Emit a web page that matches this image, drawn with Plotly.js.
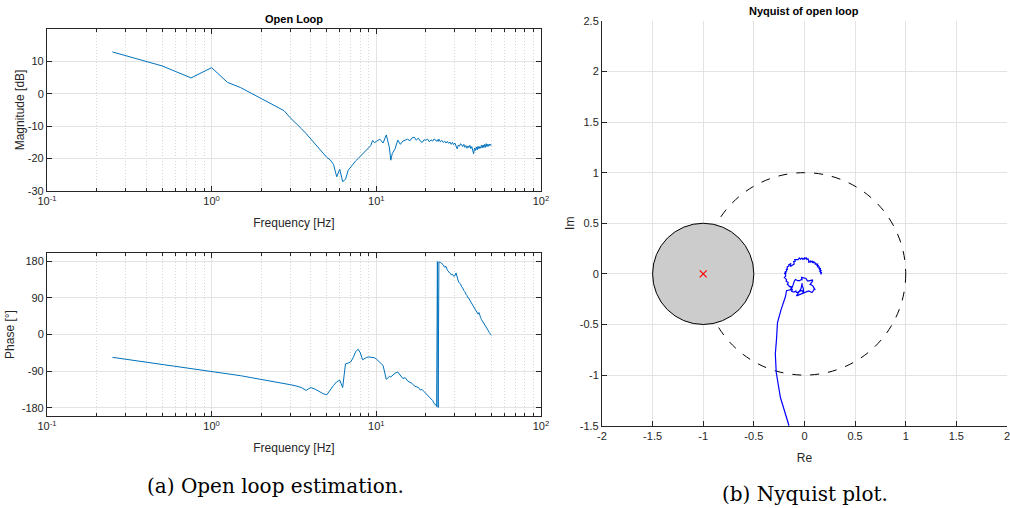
<!DOCTYPE html>
<html>
<head>
<meta charset="utf-8">
<script src="https://cdn.plot.ly/plotly-3.0.1.min.js"></script>
<style>html,body{margin:0;padding:0;background:#fff;} #chart{width:1010px;height:508px;}</style>
</head>
<body>
<div id="chart"></div>
<script>
// ---- Data ----
const freqHz = [0.25,0.5,0.75,1,1.25,1.5,1.75,2,2.25,2.5,2.75,3,3.25,3.5,3.75,4,4.25,4.5,4.75,5,
  5.25,5.5,5.75,6,6.25,6.5,6.75,7,7.25,7.5,7.75,8,8.25,8.5,8.75,9,9.25,9.5,9.75,10,
  10.5,11,11.5,12,12.25,12.5,13,13.5,14,14.5,15,15.5,16,16.5,17,17.5,18,18.5,19,19.5,
  20,20.5,21,21.5,22,22.5,23,23.25,23.5,23.75,24,
  24.5,25,25.5,26,26.5,27,27.5,28,28.5,29,29.5,30,30.5,31,31.5,32,32.5,33,33.5,34,34.5,35,35.5,36,36.5,37,37.5,38,38.5,39,39.5,40,
  40.5,41,41.5,42,42.5,43,43.5,44,44.5,45,45.5,46,46.5,47,47.5,48,48.5,49,49.5,50];

const magnitudeDb = [12.9,8.6,4.9,8.05,3.5,1.9,0.1,-1.5,-3.0,-4.1,-5.2,-7.4,-9.0,-10.7,-12.3,-13.9,-15.5,-17.0,-18.3,-19.6,
  -20.4,-21.8,-25.6,-23.3,-27.1,-26.4,-23.6,-22.5,-21.5,-20.7,-20.0,-19.3,-18.6,-17.9,-17.2,-16.6,-16.0,-14.4,-15.1,-14.7,
  -14.0,-15.2,-12.7,-16.5,-20.5,-18.5,-17.0,-14.3,-15.6,-14.6,-14.4,-14.0,-14.5,-13.6,-13.4,-14.3,-13.7,-14.6,-15.0,-14.2,
  -14.3,-14.0,-14.8,-14.2,-14.6,-13.9,-14.5,-14.6,-14.2,-14.7,-14.0,
  -14.8,-14.4,-15.0,-14.6,-15.2,-14.7,-15.3,-14.9,-15.6,-15.0,-15.7,-15.2,-16.2,-17.0,-15.8,-16.2,-15.4,-15.9,-16.3,-15.6,-16.5,-16.0,-16.8,-16.1,-16.6,-15.9,-16.9,-16.3,-17.2,-18.5,-16.8,-17.5,
  -16.4,-17.3,-16.2,-17.0,-16.3,-16.8,-15.9,-16.7,-15.8,-16.6,-15.6,-16.5,-15.4,-16.3,-15.6,-16.2,-15.5,-16.0,-15.6,-15.9];

const phaseDeg = [-56,-73,-83,-90,-96,-101,-106,-110,-113,-116,-119,-123,-126,-130,-137,-130,-134,-140,-145,-148,
  -135,-125,-116,-112,-130,-72,-70,-67,-56,-42,-36,-45,-62,-58,-56,-55,-56,-56,-57,-60,
  -68,-76,-110,-103,-104,-101,-95,-92,-99,-108,-106,-114,-117,-120,-126,-128,-130,-136,-135,-140,
  -145,-148,-152,-158,-162,-170,-172,-177,179,-179,178,
  177,174,171,165,167,158,153,150,147,148,143,144,151,136,131,126,124,117,114,108,105,99,96,90,89,84,80,77,72,70,64,62,
  57,55,50,54,44,42,37,34,31,28,24,22,18,15,11,9,5,3,0,-2];

const freqTickVals = [0.1, 1, 10, 100];
const freqTickText = ['10<sup>-1</sup>','10<sup>0</sup>','10<sup>1</sup>','10<sup>2</sup>'];
const magTickVals = [-30,-20,-10,0,10];
const phaseTickVals = [-180,-90,0,90,180];
const reTickVals = [-2,-1.5,-1,-0.5,0,0.5,1,1.5,2];
const imTickVals = [-1.5,-1,-0.5,0,0.5,1,1.5,2,2.5];

const criticalPoint = [-1, 0];
const marginRadius = 0.5;
const unitRadius = 1;

// ---- Nyquist curve derived from the Bode data ----
const nyqRe = freqHz.map((f,i)=> Math.pow(10, magnitudeDb[i]/20) * Math.cos(phaseDeg[i]*Math.PI/180));
const nyqIm = freqHz.map((f,i)=> Math.pow(10, magnitudeDb[i]/20) * Math.sin(phaseDeg[i]*Math.PI/180));

const axCol = '#262626';
const gridCol = '#e3e3e3';
const fontFam = 'Liberation Sans, Arial, sans-serif';
const tickFont = {family: fontFam, size: 11, color: axCol};
const lblFont = {family: fontFam, size: 12, color: axCol};
const capFont = {family: 'DejaVu Serif, Liberation Serif, serif', size: 20, color: '#000'};

const bodeX = (anchor) => ({
  type: 'log', range: [-1, 2], domain: [0.0465, 0.5356], anchor: anchor,
  tickmode: 'array', tickvals: freqTickVals, ticktext: freqTickText,
  showline: true, linecolor: axCol, linewidth: 1, mirror: 'ticks',
  ticks: 'inside', ticklen: 5, tickcolor: axCol,
  showgrid: true, gridcolor: gridCol, gridwidth: 1,
  minor: {dtick: 'D1', ticks: 'inside', ticklen: 3, tickcolor: axCol, showgrid: true, gridcolor: '#d6d6d6', griddash: '1px,2px', gridwidth: 1},
  tickfont: tickFont, zeroline: false,
  title: {text: 'Frequency [Hz]', font: lblFont, standoff: 12}
});

const traces = [
  {x: freqHz, y: magnitudeDb, xaxis: 'x', yaxis: 'y', type: 'scatter', mode: 'lines',
   line: {color: '#0072bd', width: 1}, hoverinfo: 'skip'},
  {x: freqHz, y: phaseDeg, xaxis: 'x2', yaxis: 'y2', type: 'scatter', mode: 'lines',
   line: {color: '#0072bd', width: 1}, hoverinfo: 'skip'},
  {x: nyqRe, y: nyqIm, xaxis: 'x3', yaxis: 'y3', type: 'scatter', mode: 'lines',
   line: {color: '#0000ff', width: 1.2}, hoverinfo: 'skip'},
  {x: [criticalPoint[0]], y: [criticalPoint[1]], xaxis: 'x3', yaxis: 'y3', type: 'scatter', mode: 'markers',
   marker: {symbol: 'x-thin', size: 7, line: {color: '#ff0000', width: 1.2}}, hoverinfo: 'skip'}
];

const layout = {
  width: 1010, height: 508,
  margin: {l: 0, r: 0, t: 0, b: 0},
  paper_bgcolor: '#ffffff', plot_bgcolor: '#ffffff',
  showlegend: false,
  xaxis: bodeX('y'),
  yaxis: {domain: [0.624, 0.943], range: [-30, 20], anchor: 'x',
    tickmode: 'array', tickvals: magTickVals, ticktext: magTickVals.map(String),
    showline: true, linecolor: axCol, linewidth: 1, mirror: 'ticks',
    ticks: 'inside', ticklen: 5, tickcolor: axCol,
    showgrid: true, gridcolor: gridCol, zeroline: false, tickfont: tickFont,
    title: {text: 'Magnitude [dB]', font: lblFont, standoff: 0}},
  xaxis2: bodeX('y2'),
  yaxis2: {domain: [0.181, 0.502], range: [-200, 200], anchor: 'x2',
    tickmode: 'array', tickvals: phaseTickVals, ticktext: phaseTickVals.map(String),
    showline: true, linecolor: axCol, linewidth: 1, mirror: 'ticks',
    ticks: 'inside', ticklen: 5, tickcolor: axCol,
    showgrid: true, gridcolor: gridCol, zeroline: false, tickfont: tickFont,
    title: {text: 'Phase [°]', font: lblFont, standoff: 4}},
  xaxis3: {domain: [0.596, 0.997], range: [-2, 2], anchor: 'y3',
    tickmode: 'array', tickvals: reTickVals, ticktext: reTickVals.map(String),
    ticklabeloverflow: 'allow',
    showline: true, linecolor: axCol, linewidth: 1,
    ticks: 'inside', ticklen: 5, tickcolor: axCol,
    showgrid: true, gridcolor: gridCol, zeroline: false, tickfont: tickFont,
    title: {text: 'Re', font: lblFont, standoff: 12}},
  yaxis3: {domain: [0.162, 0.959], range: [-1.5, 2.5], anchor: 'x3',
    tickmode: 'array', tickvals: imTickVals, ticktext: imTickVals.map(String),
    showline: true, linecolor: axCol, linewidth: 1,
    ticks: 'inside', ticklen: 5, tickcolor: axCol,
    showgrid: true, gridcolor: gridCol, zeroline: false, tickfont: tickFont,
    title: {text: 'Im', font: lblFont, standoff: 2}},
  shapes: [
    {type: 'circle', xref: 'x3', yref: 'y3', layer: 'between',
     x0: -unitRadius, x1: unitRadius, y0: -unitRadius, y1: unitRadius,
     line: {color: '#000000', width: 1, dash: 'dash'}, fillcolor: 'rgba(0,0,0,0)'},
    {type: 'circle', xref: 'x3', yref: 'y3', layer: 'between',
     x0: criticalPoint[0]-marginRadius, x1: criticalPoint[0]+marginRadius,
     y0: criticalPoint[1]-marginRadius, y1: criticalPoint[1]+marginRadius,
     line: {color: '#000000', width: 1}, fillcolor: '#cccccc'}
  ],
  annotations: [
    {text: '<b>Open Loop</b>', xref: 'paper', yref: 'paper', x: 0.291, y: 1-19/508, showarrow: false,
     font: {family: fontFam, size: 11, color: '#000'}, xanchor: 'center', yanchor: 'middle'},
    {text: '<b>Nyquist of open loop</b>', xref: 'paper', yref: 'paper', x: 0.7965, y: 1-11/508, showarrow: false,
     font: {family: fontFam, size: 11, color: '#000'}, xanchor: 'center', yanchor: 'middle'},
    {text: '(a) Open loop estimation.', xref: 'paper', yref: 'paper', x: 275/1010, y: 1-486/508, showarrow: false,
     font: capFont, xanchor: 'center', yanchor: 'middle'},
    {text: '(b) Nyquist plot.', xref: 'paper', yref: 'paper', x: 805/1010, y: 1-494/508, showarrow: false,
     font: capFont, xanchor: 'center', yanchor: 'middle'}
  ]
};

Plotly.newPlot('chart', traces, layout, {staticPlot: true, displayModeBar: false});
</script>
</body>
</html>
